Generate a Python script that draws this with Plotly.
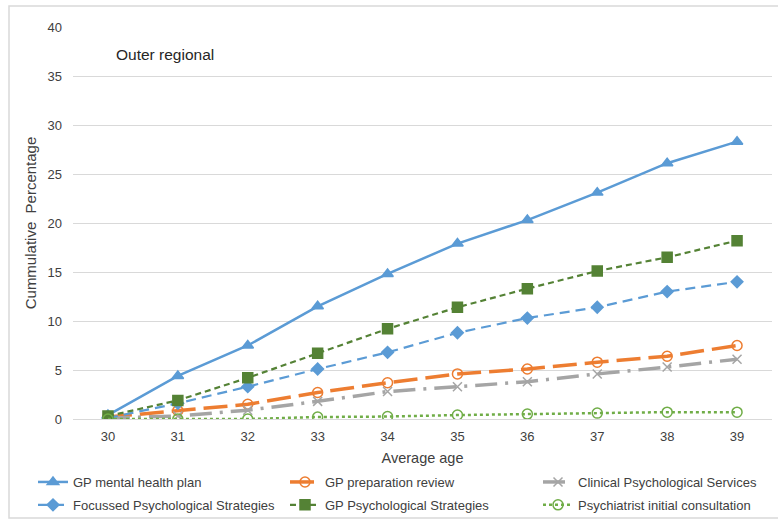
import plotly.graph_objects as go

ages = ["30", "31", "32", "33", "34", "35", "36", "37", "38", "39"]
gp_mhp = [0.4, 4.4, 7.5, 11.5, 14.8, 17.9, 20.3, 23.1, 26.1, 28.3]
gp_prep = [0.2, 0.85, 1.5, 2.7, 3.7, 4.6, 5.1, 5.8, 6.4, 7.5]
clinical = [0.1, 0.3, 0.9, 1.8, 2.8, 3.3, 3.8, 4.6, 5.3, 6.1]
focussed = [0.1, 1.6, 3.3, 5.1, 6.8, 8.8, 10.3, 11.4, 13.0, 14.0]
gp_psych = [0.3, 1.9, 4.2, 6.7, 9.2, 11.4, 13.3, 15.1, 16.5, 18.2]
psychiatrist = [0.0, 0.0, 0.0, 0.2, 0.25, 0.4, 0.5, 0.6, 0.7, 0.7]

names = ["GP mental health plan", "GP preparation review", "Clinical Psychological Services",
         "Focussed Psychological Strategies", "GP Psychological Strategies",
         "Psychiatrist initial consultation"]
series = [gp_mhp, gp_prep, clinical, focussed, gp_psych, psychiatrist]
colors = ["#5B9BD5", "#ED7D31", "#A5A5A5", "#5B9BD5", "#548235", "#70AD47"]
dashes = ["solid", "24px,8px", "22px,8px,3px,8px", "10px,6px", "6px,4px", "dot"]
widths = [2.5, 3.5, 3.5, 2.2, 2.2, 2.5]
symbols = ["triangle-up", "circle-open", "x-thin-open", "diamond", "square", "circle-open"]
msizes = [10, 10, 9, 9, 10, 10]
legend_ids = ["legend", "legend2", "legend3", "legend", "legend2", "legend3"]

fig = go.Figure()
for i, (n, s, c, d, w, sym, ms, lg) in enumerate(zip(names, series, colors, dashes, widths,
                                                     symbols, msizes, legend_ids)):
    fig.add_trace(go.Scatter(
        x=ages, y=s, name=n, mode="lines+markers", legend=lg, legendgroup=str(i),
        line=dict(color=c, dash=d, width=w),
        marker=dict(symbol=sym, size=ms, color=c, line=dict(color=c, width=1.5)),
    ))

W, H = 778, 520
ml, mr, mt, mb = 73, 6, 27, 101
pw, ph = W - ml - mr, H - mt - mb

def px(x):
    return (x - ml) / pw

def py(y):
    return (H - mb - y) / ph

font = "Arial, Liberation Sans, sans-serif"
tc = "#404040"

def leg(x):
    return dict(
        orientation="v", x=px(x), xanchor="left", y=py(467), yanchor="top",
        font=dict(size=13, color=tc), itemwidth=30, tracegroupgap=3,
        bgcolor="rgba(0,0,0,0)",
    )

fig.update_layout(
    width=W, height=H,
    margin=dict(l=ml, r=mr, t=mt, b=mb, autoexpand=False),
    plot_bgcolor="white", paper_bgcolor="white",
    font=dict(family=font, size=13, color=tc),
    showlegend=True,
    legend=leg(33), legend2=leg(285), legend3=leg(538),
    xaxis=dict(
        type="category", range=[-0.5, 9.5], showgrid=False, automargin=False,
        showline=True, linecolor="#D9D9D9", linewidth=1,
        tickfont=dict(size=13, color=tc), ticklabelstandoff=5,
        title=dict(text="Average age", font=dict(size=14.5, color=tc), standoff=10),
        ticks="", zeroline=False,
    ),
    yaxis=dict(
        range=[0, 40], dtick=5, showgrid=True, gridcolor="#D9D9D9", gridwidth=1,
        zeroline=False, showline=False, automargin=False,
        tickfont=dict(size=13, color=tc), ticklabelstandoff=10,
        title=dict(text="Cummulative  Percentage", font=dict(size=15, color=tc), standoff=7),
    ),
    annotations=[dict(
        text="Outer regional", xref="paper", yref="paper",
        x=px(114), y=py(54), xanchor="left", yanchor="middle",
        showarrow=False, font=dict(size=15.5, color="#262626"),
    )],
    shapes=[dict(
        type="rect", xref="paper", yref="paper",
        x0=px(9), x1=px(790), y0=py(518), y1=py(6),
        line=dict(color="#D9D9D9", width=1.5), fillcolor="rgba(0,0,0,0)", layer="below",
    )],
)

fig.write_html("out.html", config={"displayModeBar": False},
               post_script="document.body.style.margin='0';")
